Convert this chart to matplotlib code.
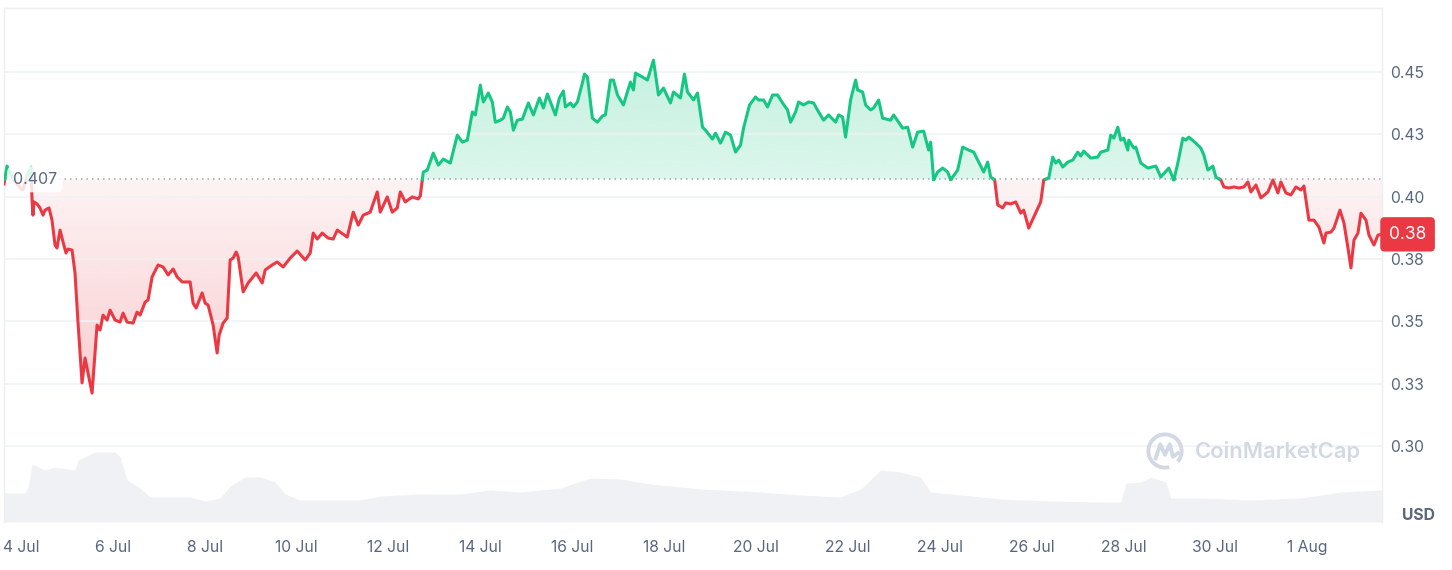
import numpy as np
import matplotlib
matplotlib.use('Agg')
import matplotlib.pyplot as plt
from matplotlib.colors import to_rgb
from matplotlib.transforms import blended_transform_factory
from matplotlib.patches import Arc

plt.rcParams['font.family'] = ['Inter', 'DejaVu Sans']

# price in USD, time in days since 4 Jul 00:00
days = [
    -0.370, -0.305, -0.240, -0.153, -0.022, 0.044, 0.131, 0.218, 0.240, 0.261,
    0.283, 0.349, 0.414, 0.479, 0.523, 0.610, 0.675, 0.741, 0.784, 0.850,
    0.915, 0.980, 1.024, 1.111, 1.176, 1.242, 1.329, 1.394, 1.460, 1.547,
    1.656, 1.721, 1.786, 1.874, 1.939, 2.048, 2.157, 2.222, 2.309, 2.440,
    2.527, 2.593, 2.702, 2.767, 2.854, 2.985, 3.094, 3.203, 3.312, 3.399,
    3.508, 3.682, 3.747, 3.813, 3.943, 4.009, 4.074, 4.183, 4.270, 4.314,
    4.401, 4.488, 4.553, 4.619, 4.684, 4.728, 4.837, 4.946, 5.120, 5.251,
    5.316, 5.468, 5.577, 5.708, 5.861, 6.013, 6.187, 6.296, 6.362, 6.449,
    6.558, 6.688, 6.797, 6.885, 7.102, 7.233, 7.342, 7.451, 7.603, 7.756,
    7.821, 7.974, 8.083, 8.192, 8.257, 8.366, 8.519, 8.649, 8.693, 8.758,
    8.845, 8.976, 9.085, 9.194, 9.346, 9.499, 9.608, 9.717, 9.826, 9.891,
    10.000, 10.065, 10.174, 10.261, 10.327, 10.436, 10.501, 10.588, 10.654, 10.719,
    10.806, 10.915, 11.046, 11.155, 11.285, 11.373, 11.460, 11.634, 11.721, 11.808,
    11.852, 11.961, 12.026, 12.113, 12.222, 12.266, 12.331, 12.440, 12.549, 12.658,
    12.723, 12.832, 12.898, 12.985, 13.115, 13.268, 13.333, 13.377, 13.529, 13.638,
    13.769, 13.878, 13.987, 14.139, 14.205, 14.357, 14.444, 14.510, 14.641, 14.728,
    14.837, 14.902, 15.054, 15.120, 15.229, 15.338, 15.447, 15.556, 15.664, 15.730,
    15.861, 15.991, 16.057, 16.166, 16.253, 16.362, 16.471, 16.580, 16.688, 16.754,
    16.863, 16.928, 17.037, 17.146, 17.255, 17.364, 17.473, 17.582, 17.734, 17.800,
    17.887, 17.952, 18.061, 18.170, 18.214, 18.322, 18.388, 18.497, 18.562, 18.671,
    18.758, 18.932, 18.998, 19.194, 19.303, 19.412, 19.521, 19.651, 19.760, 19.804,
    19.869, 19.956, 20.065, 20.174, 20.240, 20.392, 20.501, 20.632, 20.741, 20.850,
    20.959, 21.046, 21.111, 21.198, 21.264, 21.373, 21.438, 21.547, 21.656, 21.765,
    21.830, 21.939, 22.048, 22.200, 22.266, 22.375, 22.462, 22.527, 22.593, 22.680,
    22.789, 22.898, 23.007, 23.072, 23.137, 23.290, 23.442, 23.508, 23.660, 23.725,
    23.791, 23.878, 23.943, 24.009, 24.096, 24.118, 24.227, 24.270, 24.379, 24.532,
    24.706, 24.815, 24.989, 25.098, 25.185, 25.294, 25.359, 25.425, 25.577, 25.686,
    25.752, 25.839, 25.948, 26.013, 26.122, 26.187, 26.296, 26.405, 26.514, 26.623,
    26.710, 26.776, 26.885, 26.993, 27.146, 27.255, 27.364, 27.429, 27.538, 27.647,
    27.756, 27.865, 27.930, 28.039, 28.148, 28.257, 28.366, 28.410, 28.519, 28.584,
    28.715, 28.802, 28.889, 28.954, 29.020, 29.107, 29.172, 29.281, 29.346, 29.455,
    29.542, 29.630,
]
price = [
    0.4051, 0.4123, 0.4099, 0.4067, 0.4035, 0.4027, 0.4083, 0.4119, 0.3987, 0.3926,
    0.3979, 0.3971, 0.3955, 0.3926, 0.3946, 0.3955, 0.3906, 0.3806, 0.3794, 0.3866,
    0.3818, 0.3774, 0.3790, 0.3786, 0.3694, 0.3493, 0.3253, 0.3353, 0.3293, 0.3212,
    0.3485, 0.3465, 0.3525, 0.3505, 0.3545, 0.3505, 0.3497, 0.3533, 0.3497, 0.3493,
    0.3537, 0.3525, 0.3577, 0.3586, 0.3678, 0.3726, 0.3718, 0.3686, 0.3710, 0.3678,
    0.3658, 0.3658, 0.3573, 0.3553, 0.3614, 0.3573, 0.3565, 0.3485, 0.3373, 0.3445,
    0.3493, 0.3513, 0.3746, 0.3754, 0.3778, 0.3758, 0.3618, 0.3654, 0.3694, 0.3654,
    0.3706, 0.3726, 0.3738, 0.3718, 0.3754, 0.3782, 0.3746, 0.3774, 0.3854, 0.3830,
    0.3854, 0.3834, 0.3830, 0.3866, 0.3838, 0.3938, 0.3886, 0.3926, 0.3938, 0.4019,
    0.3938, 0.3999, 0.3938, 0.3955, 0.4019, 0.3979, 0.3999, 0.3991, 0.4003, 0.4099,
    0.4107, 0.4175, 0.4127, 0.4151, 0.4135, 0.4247, 0.4219, 0.4227, 0.4340, 0.4328,
    0.4448, 0.4380, 0.4416, 0.4380, 0.4299, 0.4307, 0.4315, 0.4360, 0.4340, 0.4267,
    0.4307, 0.4311, 0.4376, 0.4328, 0.4396, 0.4356, 0.4412, 0.4328, 0.4396, 0.4424,
    0.4360, 0.4376, 0.4360, 0.4380, 0.4456, 0.4492, 0.4480, 0.4315, 0.4299, 0.4324,
    0.4328, 0.4468, 0.4468, 0.4408, 0.4368, 0.4460, 0.4428, 0.4496, 0.4480, 0.4468,
    0.4548, 0.4408, 0.4436, 0.4376, 0.4420, 0.4396, 0.4492, 0.4420, 0.4388, 0.4416,
    0.4279, 0.4267, 0.4231, 0.4255, 0.4215, 0.4259, 0.4247, 0.4179, 0.4207, 0.4275,
    0.4368, 0.4400, 0.4388, 0.4388, 0.4360, 0.4408, 0.4408, 0.4376, 0.4348, 0.4299,
    0.4340, 0.4380, 0.4368, 0.4380, 0.4376, 0.4340, 0.4307, 0.4328, 0.4299, 0.4328,
    0.4320, 0.4239, 0.4388, 0.4468, 0.4428, 0.4420, 0.4368, 0.4348, 0.4356, 0.4388,
    0.4315, 0.4307, 0.4328, 0.4275, 0.4279, 0.4199, 0.4259, 0.4263, 0.4187, 0.4219,
    0.4068, 0.4099, 0.4115, 0.4099, 0.4068, 0.4107, 0.4199, 0.4187, 0.4179, 0.4139,
    0.4099, 0.4139, 0.4079, 0.4067, 0.3967, 0.3955, 0.3975, 0.3971, 0.3979, 0.3934,
    0.3946, 0.3874, 0.3918, 0.3979, 0.4067, 0.4075, 0.4159, 0.4135, 0.4147, 0.4119,
    0.4139, 0.4147, 0.4179, 0.4163, 0.4183, 0.4155, 0.4159, 0.4179, 0.4187, 0.4247,
    0.4235, 0.4279, 0.4227, 0.4235, 0.4187, 0.4227, 0.4195, 0.4199, 0.4135, 0.4115,
    0.4123, 0.4079, 0.4115, 0.4067, 0.4135, 0.4235, 0.4227, 0.4239, 0.4215, 0.4195,
    0.4167, 0.4107, 0.4123, 0.4079, 0.4067, 0.4039, 0.4035, 0.4039, 0.4035, 0.4039,
    0.4059, 0.4019, 0.4047, 0.3995, 0.4019, 0.4067, 0.4015, 0.4059, 0.4015, 0.4007,
    0.4039, 0.4027, 0.4043, 0.3906, 0.3906, 0.3878, 0.3814, 0.3854, 0.3858, 0.3874,
    0.3946, 0.3894, 0.3794, 0.3714, 0.3826, 0.3854, 0.3934, 0.3906, 0.3846, 0.3806,
    0.3846, 0.3849,
]
base_price = 0.407
base_label = '0.407'
last_label = '0.38'

# trading volume (millions USD)
vol_days = [
    -0.370, 0.087, 0.153, 0.240, 0.523, 0.741, 1.176, 1.242, 1.612, 2.048,
    2.157, 2.309, 2.593, 2.810, 3.682, 4.009, 4.336, 4.553, 4.880, 5.207,
    5.534, 5.752, 6.078, 6.950, 7.386, 7.821, 8.693, 9.564, 10.218, 10.871,
    11.743, 12.397, 13.050, 13.704, 14.793, 16.100, 16.972, 17.843, 18.279, 18.715,
    19.150, 19.586, 19.804, 20.458, 21.329, 22.418, 23.508, 23.943, 24.052, 24.379,
    24.597, 24.924, 25.033, 25.686, 26.776, 27.865, 28.737, 29.630,
]
volume = [
    29, 29, 35, 58, 52, 55, 52, 62, 70, 70,
    65, 42, 34, 25, 25, 21, 24, 36, 45, 45,
    40, 28, 22, 22, 22, 26, 28, 28, 32, 30,
    34, 44, 43, 38, 33, 30, 27, 25, 33, 52,
    50, 45, 30, 27, 23, 21, 20, 20, 39, 40,
    45, 40, 24, 24, 22, 24, 30, 32,
]

xtick_days = [0, 2, 4, 6, 8, 10, 12, 14, 16, 18, 20, 22, 24, 26, 28]
xtick_labels = ['4 Jul', '6 Jul', '8 Jul', '10 Jul', '12 Jul', '14 Jul', '16 Jul', '18 Jul',
                '20 Jul', '22 Jul', '24 Jul', '26 Jul', '28 Jul', '30 Jul', '1 Aug']
ytick_vals = [0.300, 0.325, 0.350, 0.375, 0.400, 0.425, 0.450]
ytick_labels = ['0.30', '0.33', '0.35', '0.38', '0.40', '0.43', '0.45']

GREEN = '#16c784'
RED = '#ea3943'
TXT = '#58667e'
GRID = '#eff2f5'

fig = plt.figure(figsize=(14.52, 5.70), dpi=100)
rect = [4 / 1452, 48 / 570, 1378 / 1452, 514 / 570]

# volume behind the price
vax = fig.add_axes(rect, zorder=0)
vax.fill_between(vol_days, volume, 0, color='#f0f1f5', lw=0)
vax.set_xlim(days[0], days[-1])
vax.set_ylim(0, max(volume) * 7.35)
vax.axis('off')

ax = fig.add_axes(rect, zorder=1)
ax.patch.set_alpha(0)

# insert baseline crossings so colours switch exactly at 0.407
x = np.array(days)
y = np.array(price)
xs, ys = [x[0]], [y[0]]
for i in range(1, len(x)):
    a, b = y[i - 1] - base_price, y[i] - base_price
    if a * b < 0:
        t = a / (a - b)
        xs.append(x[i - 1] + t * (x[i] - x[i - 1]))
        ys.append(base_price)
    xs.append(x[i])
    ys.append(y[i])
xs = np.array(xs)
ys = np.array(ys)

ymin, ymax = 0.2695, 0.4757


def grad_fill(above, color, a_near, a_far):
    if above:
        poly = ax.fill_between(xs, np.maximum(ys, base_price), base_price, color='none', lw=0)
        ext = [xs.min(), xs.max(), base_price, ys.max()]
        alphas = np.linspace(a_near, a_far, 256)
    else:
        poly = ax.fill_between(xs, np.minimum(ys, base_price), base_price, color='none', lw=0)
        ext = [xs.min(), xs.max(), ys.min(), base_price]
        alphas = np.linspace(a_far, a_near, 256)
    img = np.zeros((256, 1, 4))
    img[:, 0, :3] = to_rgb(color)
    img[:, 0, 3] = alphas
    im = ax.imshow(img, extent=ext, origin='lower', aspect='auto', zorder=1,
                   interpolation='bilinear')
    im.set_clip_path(poly.get_paths()[0], transform=ax.transData)


grad_fill(True, GREEN, 0.15, 0.25)
grad_fill(False, RED, 0.06, 0.25)

g = np.where(ys >= base_price, ys, np.nan)
r = np.where(ys <= base_price, ys, np.nan)
ax.plot(xs, r, color=RED, lw=2.2, zorder=3, solid_joinstyle='round')
ax.plot(xs, g, color=GREEN, lw=2.2, zorder=3, solid_joinstyle='round')

ax.axhline(base_price, color='#a1a7bb', lw=1.1, ls=(0, (1, 2.6)), zorder=2)
ax.text(0.0065, base_price, base_label, transform=blended_transform_factory(ax.transAxes, ax.transData),
        ha='left', va='center', fontsize=11.5, color=TXT, zorder=5,
        bbox=dict(boxstyle='round,pad=0.35', fc='white', ec='none', alpha=0.85))

ax.set_xlim(days[0], days[-1])
ax.set_ylim(ymin, ymax)
ax.set_yticks(ytick_vals)
ax.set_yticklabels(ytick_labels)
ax.set_xticks(xtick_days)
ax.set_xticklabels(xtick_labels)
ax.yaxis.tick_right()
ax.tick_params(axis='y', length=0, pad=6, labelsize=11.3, labelcolor=TXT)
ax.tick_params(axis='x', length=0, pad=13, labelsize=11.3, labelcolor=TXT)
ax.grid(axis='y', color=GRID, lw=1.1, zorder=0)
for s in ['top', 'left', 'right']:
    ax.spines[s].set_color('#eceef2')
    ax.spines[s].set_linewidth(1)
ax.spines['bottom'].set_visible(False)

# current price tag
ax.annotate(last_label, xy=(1, price[-1]), xycoords=blended_transform_factory(ax.transAxes, ax.transData),
            xytext=(5, 0), textcoords='offset points', ha='left', va='center',
            fontsize=12.5, color='white', zorder=6, annotation_clip=False,
            bbox=dict(boxstyle='round,pad=0.5,rounding_size=0.25', fc=RED, ec='none'))

fig.text(1418 / 1452, 1 - 516 / 570, 'USD', ha='center', va='center', fontsize=11.3,
         fontweight='bold', color=TXT)

# watermark
fig.text(1195 / 1452, 1 - 452 / 570, 'CoinMarketCap', ha='left', va='center', fontsize=15.8,
         fontweight='semibold', color='#d3d9e4', zorder=2)
lax = fig.add_axes([(1165 - 19) / 1452, 1 - (451 + 19) / 570, 38 / 1452, 38 / 570], zorder=2)
lax.set_xlim(-1, 1)
lax.set_ylim(-1, 1)
lax.axis('off')
lax.add_patch(Arc((0, 0), 1.75, 1.75, theta1=-40, theta2=285, lw=2.8, color='#d3d9e4'))
lax.plot([-0.5, -0.25, 0.0, 0.25, 0.42, 0.7], [-0.4, 0.35, -0.2, 0.35, -0.3, -0.1],
         color='#d3d9e4', lw=2.8, solid_joinstyle='round', solid_capstyle='round')

fig.savefig('out.png', dpi=100)
